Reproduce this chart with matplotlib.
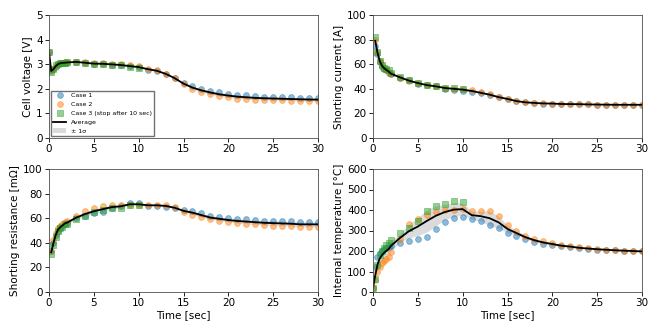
import numpy as np
import matplotlib
matplotlib.use("Agg")
import matplotlib.pyplot as plt

t = [0, 0.25, 0.5, 0.75, 1, 1.25, 1.5, 1.75, 2] + list(range(3, 31))

v1 = [3.5, 2.75, 2.8, 2.9, 3.0, 3.03, 3.05, 3.05, 3.05, 3.08, 3.05, 3.0, 3.0, 2.98, 2.95, 2.92, 2.88,
      2.78, 2.72, 2.6, 2.42, 2.22, 2.1, 2.0, 1.92, 1.85, 1.8, 1.76, 1.73, 1.7, 1.68, 1.67, 1.66, 1.65, 1.64, 1.63, 1.62]
v2 = [3.5, 2.72, 2.8, 2.92, 3.0, 3.04, 3.06, 3.07, 3.08, 3.1, 3.08, 3.05, 3.05, 3.02, 3.0, 2.95, 2.92,
      2.82, 2.75, 2.62, 2.45, 2.2, 2.0, 1.87, 1.78, 1.7, 1.65, 1.6, 1.58, 1.56, 1.55, 1.54, 1.53, 1.52, 1.51, 1.5, 1.5]
v3 = [3.5, 2.7, 2.8, 2.95, 3.0, 3.05, 3.05, 3.06, 3.08, 3.1, 3.05, 3.02, 3.0, 2.98, 2.95, 2.9, 2.85]

i1 = [np.nan, 75, 68, 62, 58, 56, 55, 53, 52, 49, 47, 44, 43, 42, 40, 39, 38,
      37.5, 36.5, 35, 33, 31.5, 30, 29, 28.5, 28, 28, 27.5, 27.5, 27.5, 27.3, 27.2, 27.1, 27, 27, 27, 27]
i2 = [np.nan, 80, 70, 63, 59, 57, 55, 54, 52, 49, 46, 45, 43, 42, 41, 40, 40,
      39, 37, 35.5, 33.5, 32, 30, 29, 28.5, 28.2, 28, 27.8, 27.6, 27.5, 27.3, 27.2, 27.1, 27, 27, 27, 27]
i3 = [np.nan, 82, 70, 63, 59, 57, 56, 55, 53, 50, 47, 45, 43, 42, 41, 41, 40]

r1 = [np.nan, 33, 40, 46, 50, 52, 54, 55, 56, 60, 62, 64, 65, 68, 70, 72, 72,
      70, 70, 69, 68, 67, 66, 64, 62, 61, 60, 59.5, 59, 58.5, 58, 58, 57.5, 57.5, 57, 57, 57]
r2 = [np.nan, 33, 42, 48, 52, 54, 55, 57, 58, 62, 66, 68, 70, 71, 71, 71, 71,
      71, 71, 71, 69, 65, 63, 61, 59, 58, 57, 56, 55.5, 55, 54.5, 54, 54, 53.5, 53, 53, 53]
r3 = [np.nan, 31, 38, 45, 50, 52, 53, 55, 55, 59, 62, 65, 67, 68, 68, 71, 71]

T1 = [20, 120, 170, 190, 200, 210, 215, 220, 225, 240, 250, 258, 270, 305, 340, 360, 368,
      355, 345, 325, 310, 290, 275, 260, 245, 235, 228, 222, 218, 213, 210, 207, 205, 203, 201, 200, 198]
T2 = [20, 60, 100, 120, 140, 150, 160, 170, 195, 260, 330, 355, 375, 390, 400, 400, 405,
      395, 395, 395, 370, 325, 300, 275, 260, 248, 240, 230, 225, 218, 214, 210, 207, 204, 202, 200, 198]
T3 = [20, 65, 130, 180, 200, 215, 230, 240, 255, 290, 310, 345, 395, 420, 430, 445, 440]

panels = [
    (v1, v2, v3, "Cell voltage [V]", (0, 5), [0, 1, 2, 3, 4, 5]),
    (i1, i2, i3, "Shorting current [A]", (0, 100), [0, 20, 40, 60, 80, 100]),
    (r1, r2, r3, "Shorting resistance [m\u03a9]", (0, 100), [0, 20, 40, 60, 80, 100]),
    (T1, T2, T3, "Internal temperature [\u00b0C]", (0, 600), [0, 100, 200, 300, 400, 500, 600]),
]

fig = plt.figure(figsize=(6.6, 3.32), dpi=100)
W, H = 660, 332
boxes = [(49, 15, 318, 138), (373, 15, 642, 138), (49, 169, 318, 292), (373, 169, 642, 292)]

ta = np.array(t, dtype=float)
for k, ((a, b, c, lab, yl, yt), (x0, y0, x1, y1)) in enumerate(zip(panels, boxes)):
    ax = fig.add_axes([x0 / W, 1 - y1 / H, (x1 - x0) / W, (y1 - y0) / H])
    A = np.array(a, dtype=float)
    B = np.array(b, dtype=float)
    C = np.full(len(t), np.nan)
    C[:len(c)] = c
    M = np.vstack([A, B, C])
    mean = np.nanmean(M, axis=0)
    std = np.nanstd(M, axis=0)
    ax.fill_between(ta, mean - std, mean + std, color="0.8", alpha=0.7, lw=0, label="\u00b1 1\u03c3")
    ax.plot(ta, A, "o", color="tab:blue", ms=4.2, alpha=0.5, mew=0.6, label="Case 1")
    ax.plot(ta, B, "o", color="tab:orange", ms=4.2, alpha=0.5, mew=0.6, label="Case 2")
    ax.plot(ta[:len(c)], c, "s", color="tab:green", ms=4.2, alpha=0.5, mew=0.6, label="Case 3 (stop after 10 sec)")
    ax.plot(ta, mean, "-", color="black", lw=1.3, label="Average")
    ax.set_xlim(0, 30)
    ax.set_ylim(*yl)
    ax.set_yticks(yt)
    ax.set_xticks([0, 5, 10, 15, 20, 25, 30])
    ax.tick_params(labelsize=7.5, length=3, width=0.6, pad=1.5)
    for s in ax.spines.values():
        s.set_linewidth(0.6)
        s.set_color("0.3")
    ax.set_ylabel(lab, fontsize=7.5, labelpad=2)
    if k >= 2:
        ax.set_xlabel("Time [sec]", fontsize=7.5, labelpad=1)
    if k == 0:
        h, l = ax.get_legend_handles_labels()
        order = [1, 2, 3, 4, 0]
        ax.legend([h[i] for i in order], [l[i] for i in order], loc="lower left",
                  fontsize=4.5, frameon=True, fancybox=False, edgecolor="0.3",
                  borderpad=0.4, labelspacing=0.55, handlelength=2.0, borderaxespad=0.3)

fig.savefig("out.png", dpi=100)
